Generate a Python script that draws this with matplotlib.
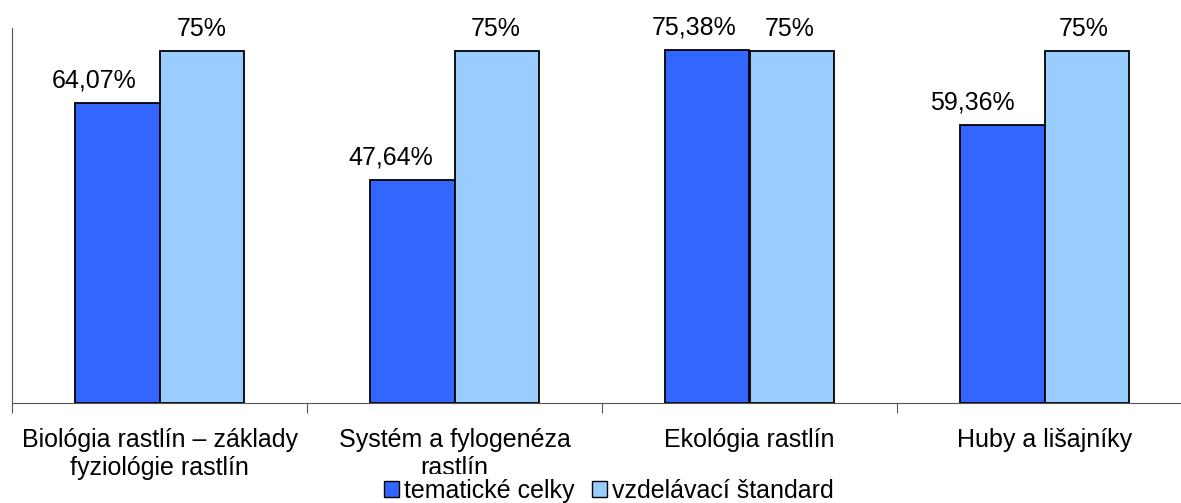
import matplotlib.pyplot as plt
import numpy as np

plt.rcParams['font.family'] = ['Liberation Sans', 'DejaVu Sans']

# data
categories = ['Biológia rastlín – základy\nfyziológie rastlín',
              'Systém a fylogenéza\nrastlín',
              'Ekológia rastlín',
              'Huby a lišajníky']
tematicke = [64.07, 47.64, 75.38, 59.36]
standard = [75, 75, 75, 75]
series_names = ['tematické celky', 'vzdelávací štandard']

# small horizontal nudges (pixels) of the value labels, as placed in the original
nudge_dark = [-23, -22, -13, -30]
nudge_light = [0, -1, -2, -3]

x = np.arange(len(categories))
w = 0.285
fs = 18

fig = plt.figure(figsize=(11.81, 5.03), dpi=100)
ax = fig.add_axes([12 / 1181, 1 - 403 / 503, 1180 / 1181, 375 / 503])

b1 = ax.bar(x - w / 2, tematicke, w, color='#3366FF', edgecolor='black', linewidth=1.3, label=series_names[0])
b2 = ax.bar(x + w / 2, standard, w, color='#99CCFF', edgecolor='black', linewidth=1.3, label=series_names[1])

def pct(v):
    s = f'{v:.2f}'.rstrip('0').rstrip('.') if v != int(v) else str(int(v))
    return s.replace('.', ',') + '%'

for bars, vals, nudge in [(b1, tematicke, nudge_dark), (b2, standard, nudge_light)]:
    for r, v, dx in zip(bars, vals, nudge):
        ax.annotate(pct(v), (r.get_x() + r.get_width() / 2, v), xytext=(dx, 15),
                    textcoords='offset pixels', ha='center', va='baseline', fontsize=fs)

ax.set_xlim(-0.5, len(categories) - 0.5)
ax.set_ylim(0, 80)
ax.set_xticks(np.arange(len(categories) + 1) - 0.5, minor=False)
ax.set_xticklabels([])
ax.set_xticks(x, minor=True)
ax.set_xticklabels(categories, minor=True, fontsize=fs, linespacing=1.2)
ax.tick_params(axis='x', which='major', length=7, color='#555555')
ax.tick_params(axis='x', which='minor', length=0, pad=18)
ax.set_yticks([])
for s in ['top', 'right']:
    ax.spines[s].set_visible(False)
ax.spines['left'].set_color('#555555')
ax.spines['bottom'].set_color('#555555')

leg = fig.legend(loc='center', bbox_to_anchor=(609 / 1181, 1 - 491 / 503), ncol=2, fontsize=fs,
                 frameon=True, edgecolor='none', facecolor='white', framealpha=1,
                 handlelength=0.6, handleheight=0.6, handletextpad=0.2, columnspacing=0.7,
                 borderpad=0.2, fancybox=False)
for h in leg.legend_handles:
    h.set_linewidth(1.0)

fig.savefig('out.png', dpi=100)
